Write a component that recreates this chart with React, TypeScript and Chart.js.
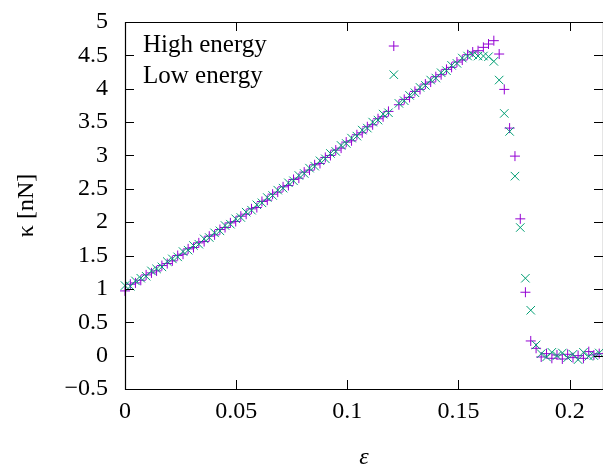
import React, { useEffect, useRef } from 'react';
import { Chart, registerables } from 'chart.js';

Chart.register(...registerables);

const epsilon = [
  0, 0.0024, 0.0047, 0.0071, 0.0095, 0.0119, 0.0142, 0.0166, 0.019, 0.0213,
  0.0237, 0.0261, 0.0284, 0.0308, 0.0332, 0.0356, 0.0379, 0.0403, 0.0427, 0.045,
  0.0474, 0.0498, 0.0521, 0.0545, 0.0569, 0.0593, 0.0616, 0.064, 0.0664, 0.0687,
  0.0711, 0.0735, 0.0758, 0.0782, 0.0806, 0.083, 0.0853, 0.0877, 0.0901, 0.0924,
  0.0948, 0.0972, 0.0995, 0.1019, 0.1043, 0.1067, 0.109, 0.1114, 0.1138, 0.1161,
  0.1185, 0.1209, 0.1232, 0.1256, 0.128, 0.1304, 0.1327, 0.1351, 0.1375, 0.1398,
  0.1422, 0.1446, 0.1469, 0.1493, 0.1517, 0.1541, 0.1564, 0.1588, 0.1612, 0.1635,
  0.1659, 0.1683, 0.1706, 0.173, 0.1754, 0.1778, 0.1801, 0.1825, 0.1849, 0.1872,
  0.1896, 0.192, 0.1943, 0.1967, 0.1991, 0.2015, 0.2038, 0.2062, 0.2086, 0.2109,
  0.2133,
];

const highEnergy = [
  0.97, 1.07, 1.09, 1.13, 1.21, 1.24, 1.27, 1.35, 1.38, 1.42,
  1.5, 1.52, 1.6, 1.62, 1.69, 1.71, 1.79, 1.81, 1.89, 1.92,
  1.99, 2.01, 2.09, 2.12, 2.2, 2.22, 2.31, 2.33, 2.42, 2.45,
  2.53, 2.55, 2.64, 2.66, 2.75, 2.78, 2.86, 2.88, 2.97, 3.0,
  3.08, 3.11, 3.2, 3.22, 3.31, 3.34, 3.43, 3.46, 3.55, 3.58,
  3.66, 4.64, 3.76, 3.84, 3.87, 3.96, 3.99, 4.07, 4.1, 4.18,
  4.21, 4.29, 4.32, 4.4, 4.43, 4.51, 4.55, 4.57, 4.62, 4.67,
  4.72, 4.52, 3.99, 3.41, 2.99, 2.05, 0.95, 0.22, 0.11, -0.02,
  0.03, -0.04, 0.01, -0.05, 0.02, -0.03, 0.0, -0.04, 0.06, 0.01,
  0.03,
];

const lowEnergy = [
  1.05, 1.04, 1.12, 1.16, 1.19, 1.27, 1.3, 1.33, 1.41, 1.45,
  1.48, 1.56, 1.58, 1.65, 1.67, 1.75, 1.77, 1.84, 1.87, 1.95,
  1.97, 2.05, 2.07, 2.15, 2.18, 2.26, 2.29, 2.37, 2.4, 2.48,
  2.51, 2.59, 2.62, 2.7, 2.73, 2.81, 2.84, 2.92, 2.95, 3.03,
  3.06, 3.15, 3.18, 3.26, 3.29, 3.38, 3.41, 3.5, 3.53, 3.62,
  3.64, 4.21, 3.78, 3.82, 3.9, 3.94, 4.02, 4.05, 4.13, 4.16,
  4.24, 4.27, 4.35, 4.38, 4.46, 4.49, 4.51, 4.49, 4.49, 4.48,
  4.41, 4.13, 3.63, 3.36, 2.69, 1.92, 1.16, 0.68, 0.16, 0.03,
  -0.02, 0.05, 0.0, 0.04, -0.03, 0.02, -0.06, 0.05, -0.01, 0.0,
  0.04,
];

const seriesLabels = ['High energy', 'Low energy'];
const xTicks = [0, 0.05, 0.1, 0.15, 0.2];
const yTicks = [-0.5, 0, 0.5, 1, 1.5, 2, 2.5, 3, 3.5, 4, 4.5, 5];

const FONT = '"Liberation Serif", "Times New Roman", serif';

function fmt(v: number): string {
  const s = String(Number(v.toFixed(3)));
  return v < 0 ? '\u2212' + s.slice(1) : s;
}

export default function App() {
  const ref = useRef<HTMLCanvasElement>(null);

  useEffect(() => {
    if (!ref.current) return;

    const framePlugin = {
      id: 'frameTicks',
      afterDatasetsDraw(chart: any) {
        const { ctx, chartArea } = chart;
        const { left, right, top, bottom } = chartArea;
        const xs = chart.scales.x;
        const ys = chart.scales.y;
        const len = 9;
        ctx.save();
        ctx.strokeStyle = '#000';
        ctx.lineWidth = 1.2;
        ctx.beginPath();
        ctx.rect(left + 0.5, top + 0.5, right - left, bottom - top);
        ctx.stroke();
        ctx.lineWidth = 1;
        ctx.beginPath();
        xTicks.forEach((v) => {
          const px = Math.round(xs.getPixelForValue(v)) + 0.5;
          if (Math.abs(px - left) < 2) return;
          ctx.moveTo(px, bottom);
          ctx.lineTo(px, bottom - len);
          ctx.moveTo(px, top);
          ctx.lineTo(px, top + len);
        });
        yTicks.forEach((v) => {
          const py = Math.round(ys.getPixelForValue(v)) + 0.5;
          if (Math.abs(py - top) < 2 || Math.abs(py - bottom) < 2) return;
          ctx.moveTo(left, py);
          ctx.lineTo(left + len, py);
          ctx.moveTo(right, py);
          ctx.lineTo(right - len, py);
        });
        ctx.stroke();

        ctx.fillStyle = '#000';
        ctx.font = '25px ' + FONT;
        ctx.textAlign = 'left';
        ctx.textBaseline = 'alphabetic';
        chart.data.datasets.forEach((ds: any, i: number) => {
          ctx.fillText(ds.label, left + 18, top + 30 + i * 31);
        });
        ctx.restore();
      },
    };

    const chart = new Chart(ref.current, {
      type: 'scatter',
      data: {
        datasets: [
          {
            label: seriesLabels[0],
            data: epsilon.map((x, i) => ({ x, y: highEnergy[i] })),
            pointStyle: 'cross',
            pointRadius: 5,
            pointBorderWidth: 1,
            borderColor: '#9400D3',
            backgroundColor: '#9400D3',
            showLine: false,
            clip: false,
            order: 2,
          },
          {
            label: seriesLabels[1],
            data: epsilon.map((x, i) => ({ x, y: lowEnergy[i] })),
            pointStyle: 'crossRot',
            pointRadius: 6,
            pointBorderWidth: 1,
            borderColor: '#009E73',
            backgroundColor: '#009E73',
            showLine: false,
            clip: false,
            order: 1,
          },
        ],
      },
      plugins: [framePlugin],
      options: {
        responsive: false,
        animation: false,
        layout: { autoPadding: false, padding: { left: 0, right: 0, top: 22, bottom: 0 } },
        plugins: {
          legend: { display: false },
          tooltip: { enabled: false },
        },
        scales: {
          x: {
            type: 'linear',
            min: 0,
            max: 0.215,
            grid: { display: false, drawTicks: false, tickLength: 0 },
            border: { display: false },
            afterBuildTicks: (s: any) => {
              s.ticks = xTicks.map((v) => ({ value: v }));
            },
            afterFit: (s: any) => {
              s.height = 84;
              s.paddingLeft = 0;
              s.paddingRight = 0;
            },
            ticks: {
              autoSkip: false,
              maxRotation: 0,
              padding: 8,
              color: '#000',
              font: { family: FONT, size: 24 },
              callback: (v: any) => fmt(Number(v)),
            },
            title: {
              display: true,
              text: 'ε',
              color: '#000',
              padding: { top: 0, bottom: 1 },
              font: { family: FONT, size: 24, style: 'italic' },
            },
          },
          y: {
            type: 'linear',
            min: -0.5,
            max: 5,
            grid: { display: false, drawTicks: false, tickLength: 0 },
            border: { display: false },
            afterBuildTicks: (s: any) => {
              s.ticks = yTicks.map((v) => ({ value: v }));
            },
            afterFit: (s: any) => {
              s.width = 125;
              s.paddingTop = 0;
              s.paddingBottom = 0;
            },
            ticks: {
              autoSkip: false,
              padding: 17,
              color: '#000',
              font: { family: FONT, size: 24 },
              callback: (v: any) => fmt(Number(v)),
            },
            title: {
              display: true,
              text: 'κ [nN]',
              color: '#000',
              padding: { top: 12, bottom: 0 },
              font: { family: FONT, size: 24 },
            },
          },
        },
      },
    });

    return () => chart.destroy();
  }, []);

  return (
    <div style={{ position: 'absolute', left: 0, top: 0, width: 603, height: 473, background: '#fff' }}>
      <canvas ref={ref} width={603} height={473} style={{ display: 'block', width: 603, height: 473 }} />
    </div>
  );
}
